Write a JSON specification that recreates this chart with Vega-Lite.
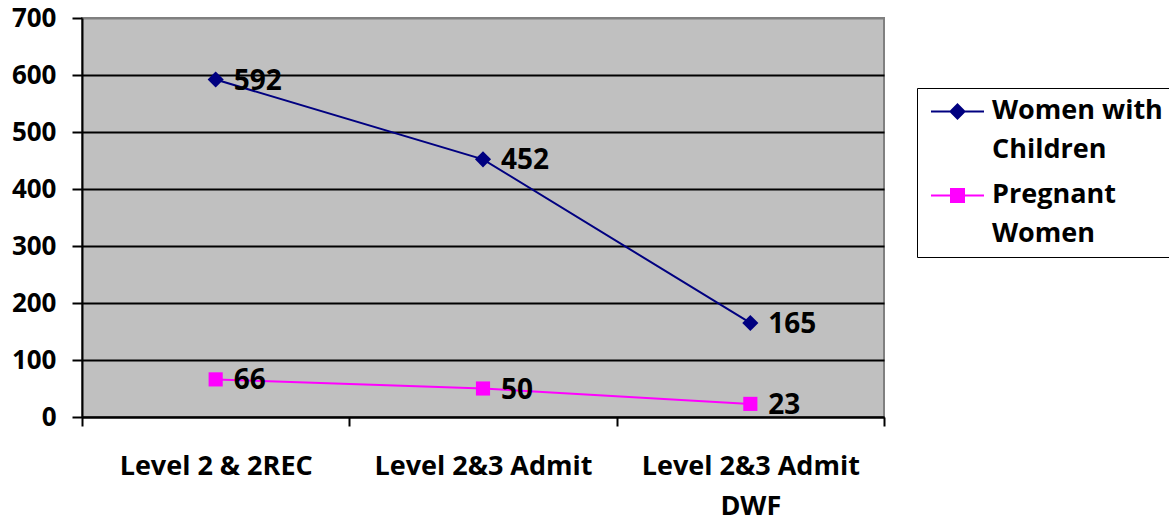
{
  "$schema": "https://vega.github.io/schema/vega-lite/v6.json",
  "width": 802,
  "height": 399,
  "autosize": {"type": "none"},
  "padding": {"left": 82, "top": 18, "right": 285, "bottom": 106},
  "background": "white",
  "config": {
    "font": "Open Sans",
    "view": {"fill": "#C0C0C0", "stroke": "#808080", "strokeWidth": 2}
  },
  "data": {
    "values": [
      {"stage": "Level 2 & 2REC", "series": "Women with Children", "value": 592},
      {"stage": "Level 2&3 Admit", "series": "Women with Children", "value": 452},
      {"stage": "Level 2&3 Admit DWF", "series": "Women with Children", "value": 165},
      {"stage": "Level 2 & 2REC", "series": "Pregnant Women", "value": 66},
      {"stage": "Level 2&3 Admit", "series": "Pregnant Women", "value": 50},
      {"stage": "Level 2&3 Admit DWF", "series": "Pregnant Women", "value": 23}
    ]
  },
  "encoding": {
    "x": {
      "field": "stage",
      "type": "nominal",
      "sort": null,
      "scale": {"type": "band", "paddingInner": 0, "paddingOuter": 0},
      "axis": {
        "title": null,
        "labelAngle": 0,
        "labelLimit": 0,
        "tickBand": "extent",
        "tickSize": 9,
        "tickColor": "black",
        "tickWidth": 2,
        "domainColor": "black",
        "domainWidth": 2,
        "labelFont": "Open Sans",
        "labelFontSize": 27,
        "labelFontWeight": "bold",
        "labelColor": "black",
        "labelPadding": 27,
        "labelLineHeight": 40,
        "labelExpr": "datum.label == 'Level 2&3 Admit DWF' ? ['Level 2&3 Admit', 'DWF'] : datum.label"
      }
    },
    "y": {
      "field": "value",
      "type": "quantitative",
      "scale": {"domain": [0, 700]},
      "axis": {
        "title": null,
        "values": [0, 100, 200, 300, 400, 500, 600, 700],
        "tickSize": 10,
        "tickColor": "black",
        "tickWidth": 2,
        "domainColor": "black",
        "domainWidth": 2,
        "gridColor": {"condition": {"test": "datum.value == 700", "value": "#808080"}, "value": "black"},
        "gridWidth": 2,
        "labelFont": "Open Sans",
        "labelFontSize": 26,
        "labelFontWeight": "bold",
        "labelColor": "black",
        "labelPadding": 16
      }
    },
    "color": {
      "field": "series",
      "type": "nominal",
      "scale": {"domain": ["Women with Children", "Pregnant Women"], "range": ["#000080", "#FF00FF"]},
      "legend": {
        "title": null,
        "orient": "none",
        "legendX": 835,
        "legendY": 70,
        "strokeColor": "black",
        "fillColor": "white",
        "padding": 10,
        "labelFont": "Open Sans",
        "labelFontSize": 27,
        "labelFontWeight": "bold",
        "labelColor": "black",
        "labelLimit": 300,
        "labelBaseline": "top",
        "labelOffset": 21,
        "symbolOffset": 17,
        "rowPadding": 17,
        "symbolSize": 400,
        "labelExpr": "datum.label == 'Women with Children' ? ['Women with', 'Children'] : ['Pregnant', 'Women']",
        "encode": {
          "labels": {
            "update": {
              "lineHeight": {"value": 39},
              "dy": {"value": -14}
            }
          },
          "symbols": {
            "update": {
              "shape": {"signal": "datum.value == 'Women with Children' ? 'M-2.65,0H2.65M0,-0.7L0.7,0L0,0.7L-0.7,0Z' : 'M-2.65,0H2.65M-0.65,-0.65H0.65V0.65H-0.65Z'"},
              "fill": {"signal": "datum.value == 'Women with Children' ? '#000080' : '#FF00FF'"},
              "stroke": {"signal": "datum.value == 'Women with Children' ? '#000080' : '#FF00FF'"},
              "strokeWidth": {"value": 2},
              "size": {"value": 400}
            }
          }
        }
      }
    }
  },
  "layer": [
    {"mark": {"type": "line", "strokeWidth": 2}},
    {
      "transform": [{"filter": "datum.series == 'Women with Children'"}],
      "mark": {"type": "point", "filled": true, "opacity": 1, "shape": "diamond", "size": 260}
    },
    {
      "transform": [{"filter": "datum.series == 'Pregnant Women'"}],
      "mark": {"type": "point", "filled": true, "opacity": 1, "shape": "square", "size": 200}
    },
    {
      "mark": {"type": "text", "align": "left", "baseline": "middle", "dx": 18, "dy": 2, "fontSize": 28, "fontWeight": "bold", "font": "Open Sans", "color": "black"},
      "encoding": {
        "text": {"field": "value", "type": "quantitative"},
        "color": {"value": "black"}
      }
    }
  ]
}
